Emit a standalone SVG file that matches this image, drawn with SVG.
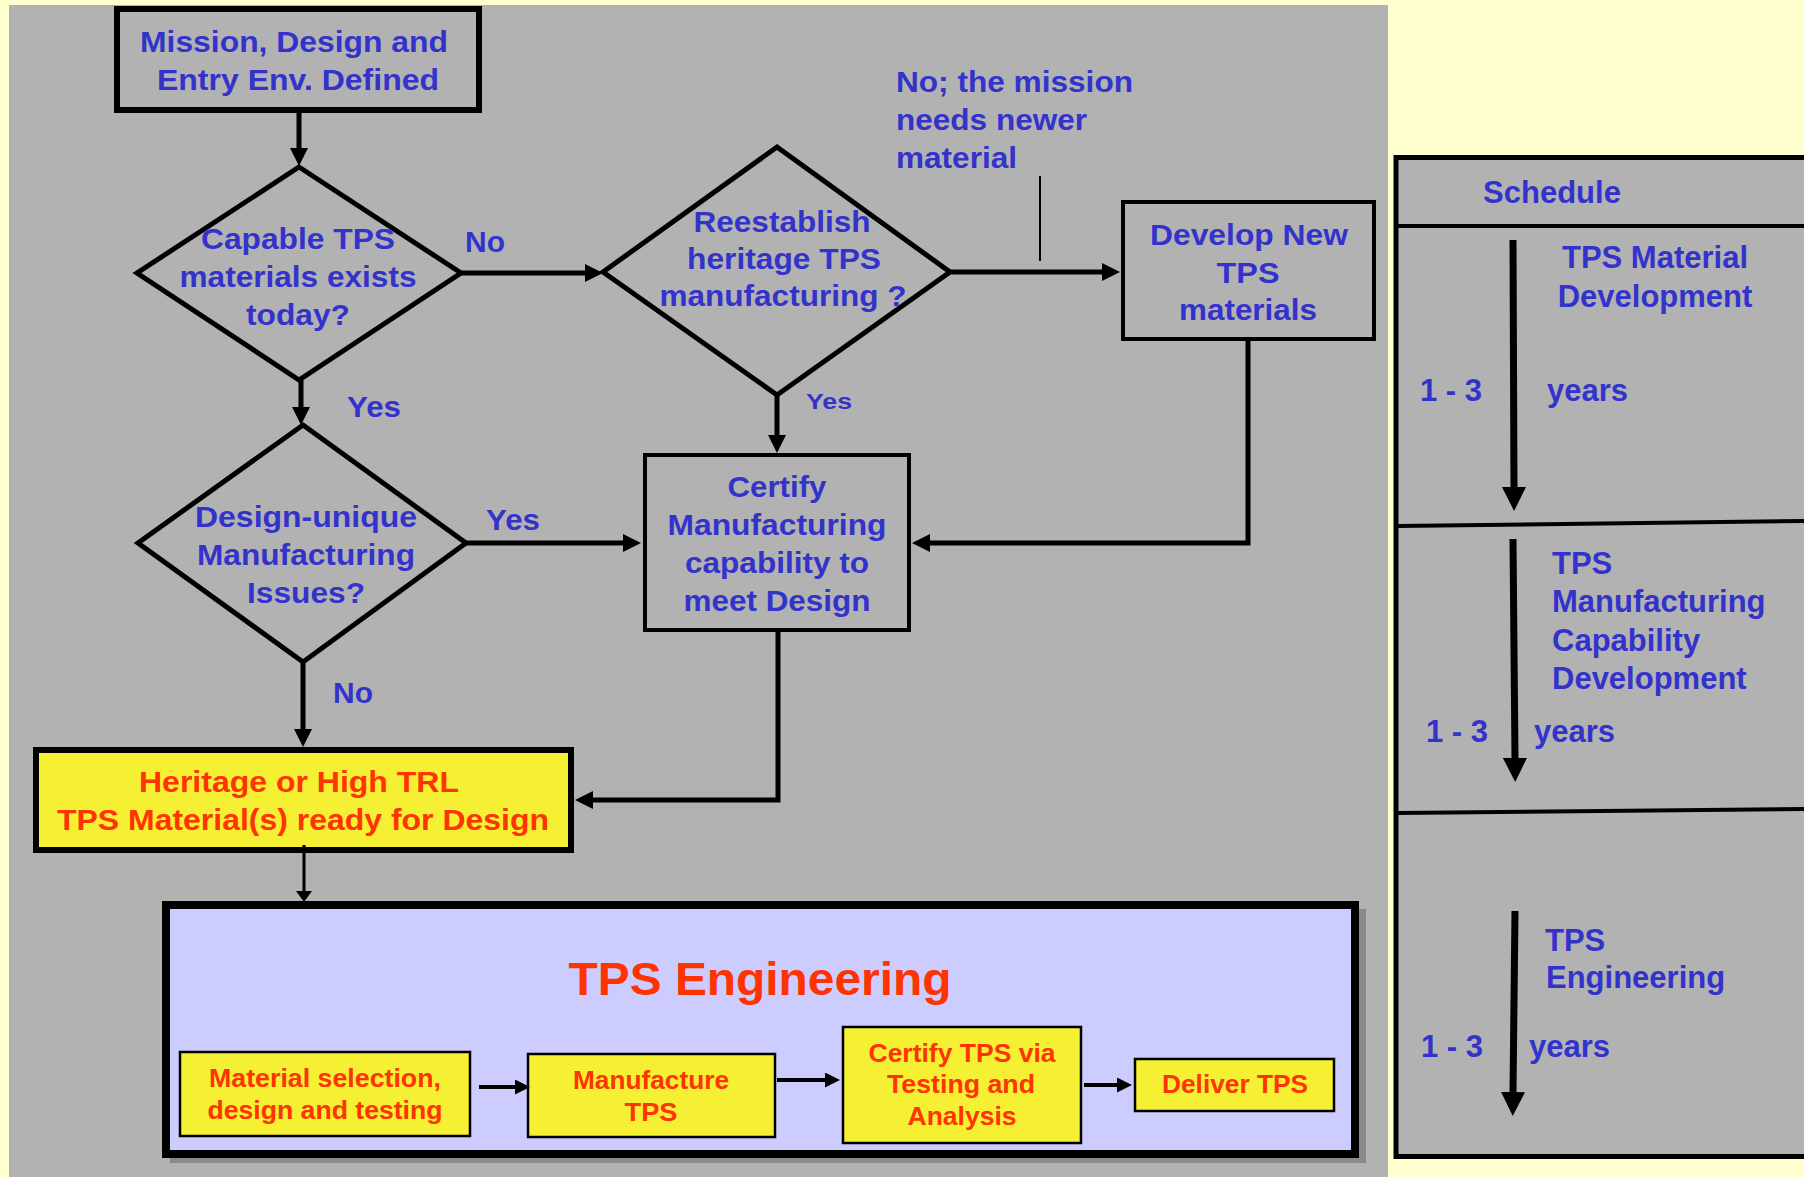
<svg xmlns="http://www.w3.org/2000/svg" width="1804" height="1177" viewBox="0 0 1804 1177">
<style>
.fc{font-family:"Liberation Sans",Arial,sans-serif;font-weight:bold;font-size:30px;fill:#3333cc;text-anchor:middle}
.lbl{font-family:"Liberation Sans",Arial,sans-serif;font-weight:bold;font-size:30px;fill:#3333cc;text-anchor:start}
.red{font-family:"Liberation Sans",Arial,sans-serif;font-weight:bold;font-size:30px;fill:#ff3300;text-anchor:middle}
.sub{font-family:"Liberation Sans",Arial,sans-serif;font-weight:bold;font-size:26px;fill:#ff3300;text-anchor:middle}
.sch{font-family:"Liberation Sans",Arial,sans-serif;font-weight:bold;font-size:31px;fill:#3333cc}
.box{fill:#b2b2b2;stroke:#000}
.dia{fill:#b2b2b2;stroke:#000;stroke-width:5;stroke-linejoin:miter}
.ybox{fill:#f5f033;stroke:#000;stroke-width:2.5}
.conn{fill:none;stroke:#000;stroke-width:5}
</style>
<defs>
<marker id="ah" markerUnits="userSpaceOnUse" markerWidth="18" markerHeight="18" refX="1" refY="9" orient="auto"><path d="M0,0 L18,9 L0,18 z" fill="#000"/></marker>
<marker id="ahs" markerUnits="userSpaceOnUse" markerWidth="11" markerHeight="16" refX="1" refY="8" orient="auto"><path d="M0,0 L11,8 L0,16 z" fill="#000"/></marker>
<marker id="ahm" markerUnits="userSpaceOnUse" markerWidth="15" markerHeight="15" refX="1" refY="7.5" orient="auto"><path d="M0,0 L15,7.5 L0,15 z" fill="#000"/></marker>
<marker id="ahb" markerUnits="userSpaceOnUse" markerWidth="24" markerHeight="24" refX="1" refY="12" orient="auto"><path d="M0,0 L24,12 L0,24 z" fill="#000"/></marker>
</defs>
<rect x="0" y="0" width="1804" height="1177" fill="#ffffd0"/>
<rect x="9" y="5" width="1379" height="1172" fill="#b2b2b2"/>

<g id="mission">
<rect class="box" x="117" y="9" width="362" height="101" stroke-width="6"/>
<text class="fc" x="294" y="52" textLength="308" lengthAdjust="spacingAndGlyphs">Mission, Design and</text>
<text class="fc" x="298" y="90" textLength="282" lengthAdjust="spacingAndGlyphs">Entry Env. Defined</text>
</g>

<g id="capable">
<polygon class="dia" points="299,167 461,273 299,380 137,273"/>
<text class="fc" x="298" y="249" textLength="194" lengthAdjust="spacingAndGlyphs">Capable TPS</text>
<text class="fc" x="298" y="287" textLength="237" lengthAdjust="spacingAndGlyphs">materials exists</text>
<text class="fc" x="298" y="325" textLength="104" lengthAdjust="spacingAndGlyphs">today?</text>
</g>

<g id="reestablish">
<polygon class="dia" points="777,147 950,272 777,395 603,272"/>
<text class="fc" x="782" y="232" textLength="177" lengthAdjust="spacingAndGlyphs">Reestablish</text>
<text class="fc" x="784" y="269" textLength="194" lengthAdjust="spacingAndGlyphs">heritage TPS</text>
<text class="fc" x="783" y="306" textLength="247" lengthAdjust="spacingAndGlyphs">manufacturing ?</text>
</g>

<g id="develop">
<rect class="box" x="1123" y="202" width="251" height="137" stroke-width="4"/>
<text class="fc" x="1249" y="245" textLength="198" lengthAdjust="spacingAndGlyphs">Develop New</text>
<text class="fc" x="1248" y="283" textLength="63" lengthAdjust="spacingAndGlyphs">TPS</text>
<text class="fc" x="1248" y="320" textLength="138" lengthAdjust="spacingAndGlyphs">materials</text>
</g>

<g id="certify">
<rect class="box" x="645" y="455" width="264" height="175" stroke-width="4"/>
<text class="fc" x="777" y="497" textLength="99" lengthAdjust="spacingAndGlyphs">Certify</text>
<text class="fc" x="777" y="535" textLength="219" lengthAdjust="spacingAndGlyphs">Manufacturing</text>
<text class="fc" x="777" y="573" textLength="184" lengthAdjust="spacingAndGlyphs">capability to</text>
<text class="fc" x="777" y="611" textLength="187" lengthAdjust="spacingAndGlyphs">meet Design</text>
</g>

<g id="design-unique">
<polygon class="dia" points="303,425 466,543 303,662 138,543"/>
<text class="fc" x="306" y="527" textLength="222" lengthAdjust="spacingAndGlyphs">Design-unique</text>
<text class="fc" x="306" y="565" textLength="218" lengthAdjust="spacingAndGlyphs">Manufacturing</text>
<text class="fc" x="306" y="603" textLength="118" lengthAdjust="spacingAndGlyphs">Issues?</text>
</g>

<g id="heritage">
<rect x="36" y="750" width="535" height="100" fill="#f5f033" stroke="#000" stroke-width="6"/>
<text class="red" x="299" y="792" textLength="320" lengthAdjust="spacingAndGlyphs">Heritage or High TRL</text>
<text class="red" x="303" y="830" textLength="492" lengthAdjust="spacingAndGlyphs">TPS Material(s) ready for Design</text>
</g>

<g id="tps-engineering">
<rect x="170" y="909" width="1196" height="254" fill="#8a8a8a"/>
<rect x="166" y="905" width="1189" height="249" fill="#ccccff" stroke="#000" stroke-width="8"/>
<text class="red" x="760" y="995" style="font-size:47px" textLength="383" lengthAdjust="spacingAndGlyphs">TPS Engineering</text>
</g>

<g id="material-selection">
<rect class="ybox" x="180" y="1052" width="290" height="84"/>
<text class="sub" x="325" y="1087" textLength="232" lengthAdjust="spacingAndGlyphs">Material selection,</text>
<text class="sub" x="325" y="1119" textLength="235" lengthAdjust="spacingAndGlyphs">design and testing</text>
</g>

<g id="manufacture">
<rect class="ybox" x="528" y="1054" width="247" height="83"/>
<text class="sub" x="651" y="1089" textLength="156" lengthAdjust="spacingAndGlyphs">Manufacture</text>
<text class="sub" x="651" y="1121" textLength="53" lengthAdjust="spacingAndGlyphs">TPS</text>
</g>

<g id="certify-tps">
<rect class="ybox" x="843" y="1027" width="238" height="116"/>
<text class="sub" x="962" y="1062" textLength="187" lengthAdjust="spacingAndGlyphs">Certify TPS via</text>
<text class="sub" x="961" y="1093" textLength="148" lengthAdjust="spacingAndGlyphs">Testing and</text>
<text class="sub" x="962" y="1125" textLength="109" lengthAdjust="spacingAndGlyphs">Analysis</text>
</g>

<g id="deliver">
<rect class="ybox" x="1135" y="1059" width="199" height="52"/>
<text class="sub" x="1235" y="1093" textLength="146" lengthAdjust="spacingAndGlyphs">Deliver TPS</text>
</g>

<g id="connectors">
<path class="conn" d="M299,112 V149" marker-end="url(#ah)"/>
<path class="conn" d="M461,273 H586" marker-end="url(#ah)"/>
<path class="conn" d="M950,272 H1103" marker-end="url(#ah)"/>
<path class="conn" d="M1248,341 V543 H929" marker-end="url(#ah)"/>
<path class="conn" d="M777,395 V436" marker-end="url(#ah)"/>
<path class="conn" d="M301,380 V408" marker-end="url(#ah)"/>
<path class="conn" d="M466,543 H624" marker-end="url(#ah)"/>
<path class="conn" d="M303,662 V730" marker-end="url(#ah)"/>
<path class="conn" d="M778,632 V800 H592" marker-end="url(#ah)"/>
<path class="conn" d="M304,845 V892" style="stroke-width:3" marker-end="url(#ahs)"/>
<path class="conn" d="M479,1087 H516" style="stroke-width:4" marker-end="url(#ahm)"/>
<path class="conn" d="M777,1080 H826" style="stroke-width:4" marker-end="url(#ahm)"/>
<path class="conn" d="M1084,1085 H1118" style="stroke-width:4" marker-end="url(#ahm)"/>
<path class="conn" d="M1040,176 V261" style="stroke-width:2"/>
<text class="lbl" x="465" y="252" textLength="40" lengthAdjust="spacingAndGlyphs">No</text>
<text class="lbl" x="896" y="92" textLength="237" lengthAdjust="spacingAndGlyphs">No; the mission</text>
<text class="lbl" x="896" y="130" textLength="191" lengthAdjust="spacingAndGlyphs">needs newer</text>
<text class="lbl" x="896" y="168" textLength="121" lengthAdjust="spacingAndGlyphs">material</text>
<text class="lbl" x="806" y="409" style="font-size:22px" textLength="46" lengthAdjust="spacingAndGlyphs">Yes</text>
<text class="lbl" x="347" y="417" textLength="54" lengthAdjust="spacingAndGlyphs">Yes</text>
<text class="lbl" x="486" y="530" textLength="54" lengthAdjust="spacingAndGlyphs">Yes</text>
<text class="lbl" x="333" y="703" textLength="40" lengthAdjust="spacingAndGlyphs">No</text>
</g>

<g id="schedule">
<rect x="1396" y="157.5" width="420" height="999" fill="#b2b2b2" stroke="#000" stroke-width="5"/>
<path d="M1398,226 H1804" stroke="#000" stroke-width="4"/>
<path d="M1398,526 L1804,521" stroke="#000" stroke-width="4"/>
<path d="M1398,813 L1804,809" stroke="#000" stroke-width="4"/>
<path d="M1513,240 L1514,488" stroke="#000" stroke-width="7" marker-end="url(#ahb)"/>
<path d="M1513,539 L1515,759" stroke="#000" stroke-width="7" marker-end="url(#ahb)"/>
<path d="M1515,911 L1513,1093" stroke="#000" stroke-width="7" marker-end="url(#ahb)"/>
<text class="sch" x="1552" y="203" text-anchor="middle">Schedule</text>
<text class="sch" x="1655" y="268" text-anchor="middle">TPS Material</text>
<text class="sch" x="1655" y="307" text-anchor="middle">Development</text>
<text class="sch" x="1420" y="401">1 - 3</text>
<text class="sch" x="1547" y="401">years</text>
<text class="sch" x="1552" y="574">TPS</text>
<text class="sch" x="1552" y="612">Manufacturing</text>
<text class="sch" x="1552" y="651">Capability</text>
<text class="sch" x="1552" y="689">Development</text>
<text class="sch" x="1426" y="742">1 - 3</text>
<text class="sch" x="1534" y="742">years</text>
<text class="sch" x="1545" y="951">TPS</text>
<text class="sch" x="1546" y="988">Engineering</text>
<text class="sch" x="1421" y="1057">1 - 3</text>
<text class="sch" x="1529" y="1057">years</text>
</g>
</svg>
